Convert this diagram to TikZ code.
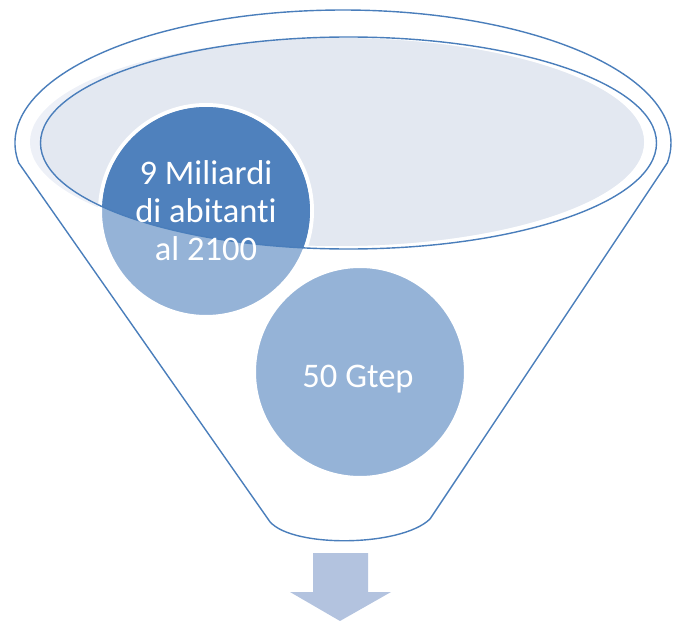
\documentclass[tikz,border=0pt]{standalone}
\usepackage{fontspec}
\setmainfont[Ligatures={NoCommon}]{Carlito}
\definecolor{lineblue}{HTML}{4A7EBB}
\definecolor{darkblue}{HTML}{4F81BD}
\definecolor{lightblue}{HTML}{95B3D7}
\definecolor{ellfill}{HTML}{E3E8F1}
\definecolor{ellglow}{HTML}{EDF0F7}
\definecolor{arrowblue}{HTML}{B3C3DF}
\tikzset{
  outline/.style={draw=lineblue, line width=1.4pt, line join=round},
  bubble/.style={circle, fill=lightblue, draw=white, line width=4pt, minimum size=212pt, inner sep=0pt},
  bubbletext/.style={text=white, align=center, font=\fontsize{34.5}{38}\selectfont}
}
\begin{document}
\begin{tikzpicture}[x=1pt,y=1pt]
\useasboundingbox (0,0) rectangle (673,-621);
% outer funnel
\draw[outline] (343,-143) ++(188.65:328pt and 133pt)
  arc[start angle=188.65, end angle=-8.65, x radius=328pt, y radius=133pt]
  -- (430,-519) .. controls (400,-548) and (285,-548) .. (268,-519) -- cycle;
% inner ellipse fill
\fill[ellglow] (337,-142) ellipse [x radius=307pt, y radius=104pt];
\begin{scope}
  \clip (348.5,-143) ellipse [x radius=308pt, y radius=106pt];
  \fill[ellfill] (337,-142) ellipse [x radius=307pt, y radius=104pt];
\end{scope}
% bubbles
\node[bubble] (c2) at (360,-372) {};
\node[bubble] (c1) at (206,-211) {};
\begin{scope}
  \clip (348.5,-143) ellipse [x radius=308pt, y radius=106pt];
  \fill[darkblue] (c1.center) circle [radius=104pt];
\end{scope}
% inner ellipse outline
\draw[outline] (348.5,-143) ellipse [x radius=308pt, y radius=106pt];
% texts
\node[bubbletext] (t1) at (206,-211) {9 Miliardi\\di abitanti\\al 2100};
\node[bubbletext, anchor=base] (t2) at (358,-387) {50 Gtep};
% arrow
\fill[arrowblue] (313,-553) -- (368,-553) -- (368,-592) -- (391,-592) -- (340,-621) -- (290,-592) -- (313,-592) -- cycle;
\end{tikzpicture}
\end{document}
